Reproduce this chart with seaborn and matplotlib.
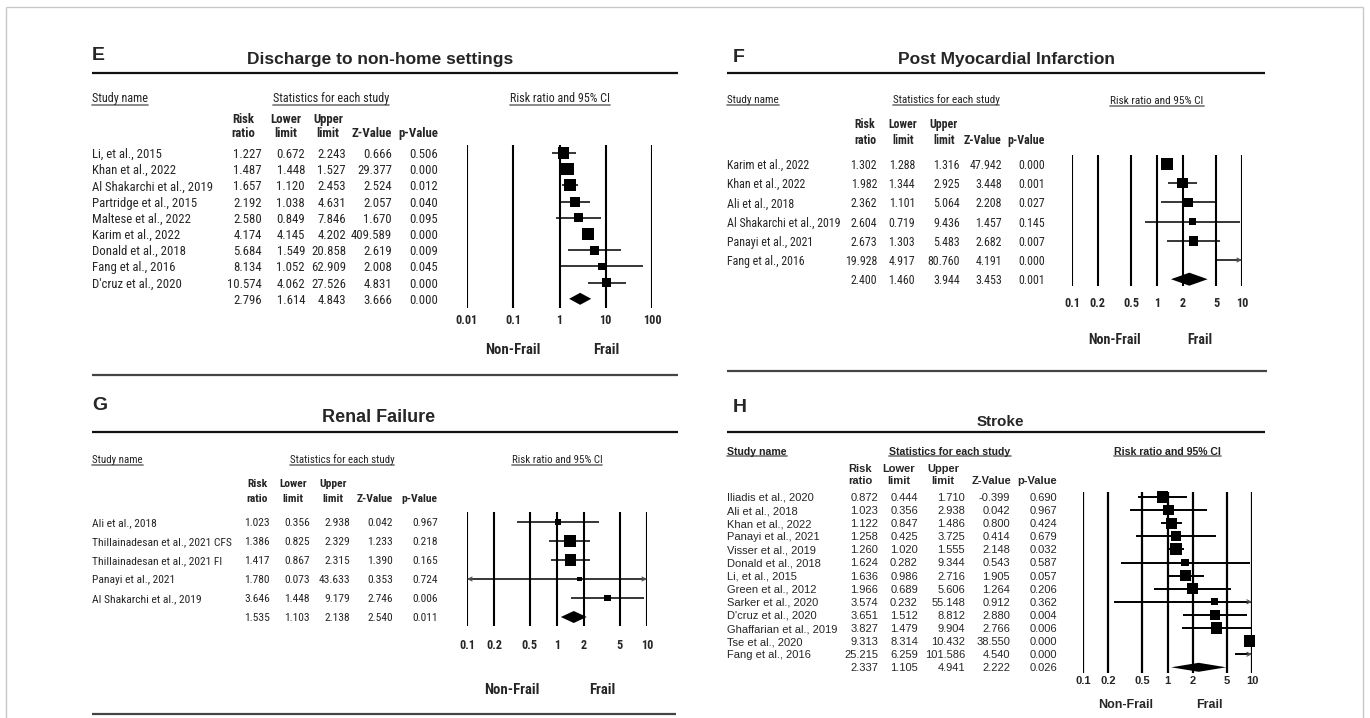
import numpy as np
import pandas as pd
import matplotlib
matplotlib.use("Agg")
import matplotlib.pyplot as plt
import seaborn as sns
from matplotlib import font_manager
from matplotlib.lines import Line2D
from matplotlib.transforms import blended_transform_factory as blend

# ---------------------------------------------------------------- data
# E: discharge to non-home settings
e_study = ["Li, et al., 2015", "Khan et al., 2022", "Al Shakarchi et al., 2019",
           "Partridge et al., 2015", "Maltese et al., 2022", "Karim et al., 2022",
           "Donald et al., 2018", "Fang et al., 2016", "D'cruz et al., 2020"]
e_rr = [1.227, 1.487, 1.657, 2.192, 2.580, 4.174, 5.684, 8.134, 10.574]
e_lower = [0.672, 1.448, 1.120, 1.038, 0.849, 4.145, 1.549, 1.052, 4.062]
e_upper = [2.243, 1.527, 2.453, 4.631, 7.846, 4.202, 20.858, 62.909, 27.526]
e_z = [0.666, 29.377, 2.524, 2.057, 1.670, 409.589, 2.619, 2.008, 4.831]
e_p = [0.506, 0.000, 0.012, 0.040, 0.095, 0.000, 0.009, 0.045, 0.000]
e_weight = [12.5, 15.6, 14.9, 10.4, 8.9, 15.6, 8.9, 4.7, 8.4]
e_overall = [2.796, 1.614, 4.843, 3.666, 0.000]

# F: post myocardial infarction
f_study = ["Karim et al., 2022", "Khan et al., 2022", "Ali et al., 2018",
           "Al Shakarchi et al., 2019", "Panayi et al., 2021", "Fang et al., 2016"]
f_rr = [1.302, 1.982, 2.362, 2.604, 2.673, 19.928]
f_lower = [1.288, 1.344, 1.101, 0.719, 1.303, 4.917]
f_upper = [1.316, 2.925, 5.064, 9.436, 5.483, 80.760]
f_z = [47.942, 3.448, 2.208, 1.457, 2.682, 4.191]
f_p = [0.000, 0.001, 0.027, 0.145, 0.007, 0.000]
f_weight = [28.1, 21.5, 17.6, 8.2, 17.6, 7.0]
f_overall = [2.400, 1.460, 3.944, 3.453, 0.001]

# G: renal failure
g_study = ["Ali et al., 2018", "Thillainadesan et al., 2021 CFS",
           "Thillainadesan et al., 2021 FI", "Panayi et al., 2021",
           "Al Shakarchi et al., 2019"]
g_rr = [1.023, 1.386, 1.417, 1.780, 3.646]
g_lower = [0.356, 0.825, 0.867, 0.073, 1.448]
g_upper = [2.938, 2.329, 2.315, 43.633, 9.179]
g_z = [0.042, 1.233, 1.390, 0.353, 2.746]
g_p = [0.967, 0.218, 0.165, 0.724, 0.006]
g_weight = [8.8, 37.6, 37.6, 5.0, 11.0]
g_overall = [1.535, 1.103, 2.138, 2.540, 0.011]

# H: stroke
h_study = ["Iliadis et al., 2020", "Ali et al., 2018", "Khan et al., 2022",
           "Panayi et al., 2021", "Visser et al., 2019", "Donald et al., 2018",
           "Li, et al., 2015", "Green et al., 2012", "Sarker et al., 2020",
           "D'cruz et al., 2020", "Ghaffarian et al., 2019", "Tse et al., 2020",
           "Fang et al., 2016"]
h_rr = [0.872, 1.023, 1.122, 1.258, 1.260, 1.624, 1.636, 1.966, 3.574, 3.651, 3.827, 9.313, 25.215]
h_lower = [0.444, 0.356, 0.847, 0.425, 1.020, 0.282, 0.986, 0.689, 0.232, 1.512, 1.479, 8.314, 6.259]
h_upper = [1.710, 2.938, 1.486, 3.725, 1.555, 9.344, 2.716, 5.606, 55.148, 8.812, 9.904, 10.432, 101.586]
h_z = [-0.399, 0.042, 0.800, 0.414, 2.148, 0.543, 1.905, 1.264, 0.912, 2.880, 2.766, 38.550, 4.540]
h_p = [0.690, 0.967, 0.424, 0.679, 0.032, 0.587, 0.057, 0.206, 0.362, 0.004, 0.006, 0.000, 0.000]
h_weight = [8.6, 8.1, 8.1, 7.1, 10.2, 4.2, 9.7, 8.1, 3.5, 7.5, 8.6, 9.7, 3.5]
h_overall = [2.337, 1.105, 4.941, 2.222, 0.026]

wide_ticks = [0.01, 0.1, 1, 10, 100]
wide_ticklabels = ["0.01", "0.1", "1", "10", "100"]
ticks = [0.1, 0.2, 0.5, 1, 2, 5, 10]
ticklabels = ["0.1", "0.2", "0.5", "1", "2", "5", "10"]

col_heads = [("Risk", "ratio"), ("Lower", "limit"), ("Upper", "limit"), ("", "Z-Value"), ("", "p-Value")]

# ---------------------------------------------------------------- style
sns.set_theme(style="white")

installed = {f.name for f in font_manager.fontManager.ttflist}
WIDE = "Liberation Sans" if "Liberation Sans" in installed else "DejaVu Sans"
NARROW = WIDE
for cand in ["Liberation Sans Narrow", "Arial Narrow", "Arimo Narrow",
             "Roboto Condensed", "Archivo Narrow", "PT Sans Narrow",
             "Fira Sans Condensed", "IBM Plex Sans Condensed", "Encode Sans Condensed"]:
    if cand in installed:
        NARROW = cand
        break
if NARROW in ("Liberation Sans Narrow", "Arial Narrow"):
    NSCALE = 1.0
elif NARROW != WIDE:
    NSCALE = 0.92
else:
    NSCALE = 0.82
plt.rcParams["font.family"] = [WIDE, "DejaVu Sans"]

W, H = 1370, 718
PX_PER_PT = 100 / 72
fig = plt.figure(figsize=(W / 100, H / 100), dpi=100)
fig.patch.set_facecolor("white")


def fx(px):
    return px / W


def fy(py):
    return 1 - py / H


def hline(x0, x1, y, lw, color):
    fig.add_artist(Line2D([fx(x0), fx(x1)], [fy(y), fy(y)], lw=lw, color=color,
                          transform=fig.transFigure, solid_capstyle="butt"))


def vline(x, y0, y1, lw, color):
    fig.add_artist(Line2D([fx(x), fx(x)], [fy(y0), fy(y1)], lw=lw, color=color,
                          transform=fig.transFigure, solid_capstyle="butt"))


# light frame around the whole figure
hline(6, 1363, 7, 1.0, "#c8c8c8")
vline(6, 7, 718, 1.0, "#c8c8c8")
vline(1363, 7, 718, 1.0, "#c8c8c8")

underlined = []

cfg_e = dict(letter=("E", 92, 54), title=("Discharge to non-home settings", 380, 58, 12.5),
             top_line=(92, 678, 73), bottom_line=(92, 678, 375),
             study_xy=(92, 97), stats_xy=(331, 97), ci_y=97, head_y=(118, 132),
             head_x=[243, 286, 328, 372, 418], col_right=[262, 305, 346, 392, 438],
             row_y0=153, row_dy=16.2, grid=(467, 652, 145, 308), tick_y=320, nf_y=348,
             half=1.0, family=NARROW, fs=10 * NSCALE, head_bold=False,
             tick_fs=9.5 * NSCALE, nf_fs=11.5 * NSCALE, box_px=12.3, diamond_px=12,
             ci_lw=1.1, grid_lw=1.5)
cfg_f = dict(letter=("F", 733, 56), title=("Post Myocardial Infarction", 1006, 58, 12.5),
             top_line=(727, 1265, 73), bottom_line=(727, 1267, 371),
             study_xy=(727, 99), stats_xy=(946, 99), ci_y=100, head_y=(123, 139),
             head_x=[865, 903, 944, 983, 1026], col_right=[877, 915, 960, 1002, 1045],
             row_y0=164, row_dy=19.2, grid=(1072, 1242, 155, 286), tick_y=303, nf_y=338,
             half=0.5, family=NARROW, fs=9.3 * NSCALE, head_bold=False,
             tick_fs=9.5 * NSCALE, nf_fs=11 * NSCALE, box_px=12, diamond_px=13,
             ci_lw=1.1, grid_lw=1.5)
cfg_g = dict(letter=("G", 92, 403), title=("Renal Failure", 379, 415, 13),
             top_line=(92, 678, 432), bottom_line=(92, 676, 714),
             study_xy=(92, 459), stats_xy=(342, 459), ci_y=459, head_y=(483, 498),
             head_x=[257, 293, 333, 375, 419], col_right=[270, 310, 350, 393, 438],
             row_y0=522, row_dy=19.0, grid=(467, 647, 512, 626), tick_y=645, nf_y=688,
             half=0.5, family=NARROW, fs=9.0 * NSCALE, head_bold=False,
             tick_fs=9.5 * NSCALE, nf_fs=11.5 * NSCALE, box_px=11.7, diamond_px=12,
             ci_lw=1.1, grid_lw=1.5)
cfg_h = dict(letter=("H", 733, 406), title=("Stroke", 1000, 421, 11),
             top_line=(727, 1265, 432), bottom_line=None,
             study_xy=(727, 451), stats_xy=(950, 451), ci_y=451, head_y=(468, 480),
             head_x=[860, 899, 943, 991, 1037], col_right=[878, 918, 965, 1010, 1057],
             row_y0=497, row_dy=13.1, grid=(1083, 1252, 492, 673), tick_y=682, nf_y=703,
             half=0.5, family=WIDE, fs=8, head_bold=True,
             tick_fs=8, nf_fs=9, box_px=12, diamond_px=9,
             ci_lw=1.4, grid_lw=1.6)


def clip_arrow(ax, edge, row, direction):
    start = edge * 10 ** (-0.06 * direction)
    ax.annotate("", xy=(edge, row), xytext=(start, row),
                arrowprops=dict(arrowstyle="->", lw=0.8, color="#555555",
                                shrinkA=0, shrinkB=0, mutation_scale=7),
                annotation_clip=False, zorder=3)


def panel(c, study, rr, lower, upper, zval, pval, weight, overall, tks, tklabels):
    fam, fs = c["family"], c["fs"]
    n = len(study)
    rows = np.arange(n)
    y0, dy = c["row_y0"], c["row_dy"]
    gx0, gx1, gy0, gy1 = c["grid"]
    lower = np.asarray(lower)
    upper = np.asarray(upper)

    # section header, title and rules
    letter, lx, ly = c["letter"]
    fig.text(fx(lx), fy(ly), letter, ha="left", va="center_baseline",
             fontsize=14, fontweight="bold", family=WIDE)
    title, tx, ty, tfs = c["title"]
    fig.text(fx(tx), fy(ty), title, ha="center", va="center_baseline",
             fontsize=tfs, fontweight="bold", family=WIDE)
    x0, x1, yl = c["top_line"]
    hline(x0, x1, yl, 1.6, "#111111")
    if c["bottom_line"] is not None:
        x0, x1, yl = c["bottom_line"]
        hline(x0, x1, yl, 1.6, "#444444")

    hw = "bold" if c["head_bold"] else "normal"
    underlined.append(fig.text(fx(c["study_xy"][0]), fy(c["study_xy"][1]), "Study name",
                               ha="left", va="center_baseline", fontsize=fs * 0.95,
                               fontweight=hw, family=fam, color="#222222"))
    underlined.append(fig.text(fx(c["stats_xy"][0]), fy(c["stats_xy"][1]),
                               "Statistics for each study", ha="center",
                               va="center_baseline", fontsize=fs * 0.95,
                               fontweight=hw, family=fam, color="#222222"))
    for (h1, h2), hx in zip(col_heads, c["head_x"]):
        for txt, hy in ((h1, c["head_y"][0]), (h2, c["head_y"][1])):
            if txt:
                fig.text(fx(hx), fy(hy), txt, ha="center", va="center_baseline",
                         fontsize=fs, fontweight="bold", family=fam)

    # forest plot axes
    ax = fig.add_axes([fx(gx0), fy(gy1), (gx1 - gx0) / W, (gy1 - gy0) / H])
    ax.set_xscale("log")
    for t in tks:
        ax.axvline(t, color="black", lw=c["grid_lw"], zorder=1)

    lo_c = np.clip(lower, tks[0], tks[-1])
    hi_c = np.clip(upper, tks[0], tks[-1])
    ax.hlines(rows, lo_c, hi_c, color="black", lw=c["ci_lw"], zorder=3)
    for i in rows:
        if lower[i] < tks[0]:
            clip_arrow(ax, tks[0], i, -1)
        if upper[i] > tks[-1]:
            clip_arrow(ax, tks[-1], i, 1)

    df = pd.DataFrame({"rr": rr, "row": rows, "weight": weight})
    shown = df[(df["rr"] >= tks[0]) & (df["rr"] <= tks[-1])]
    smax = (c["box_px"] / PX_PER_PT) ** 2
    sns.scatterplot(data=shown, x="rr", y="row", size="weight", sizes=(0, smax),
                    size_norm=(0, max(weight)), marker="s", color="black",
                    linewidth=0, legend=False, clip_on=False, zorder=4, ax=ax)

    m_rr, m_lo, m_hi = overall[:3]
    hh = c["diamond_px"] / 2 / dy
    ax.fill([m_lo, m_rr, m_hi, m_rr], [n, n - hh, n, n + hh], color="black",
            lw=0, zorder=4, clip_on=False)

    ax.set_xlim(tks[0], tks[-1])
    ax.set_ylim((gy1 - y0) / dy, (gy0 - y0) / dy)
    ax.set_xticks(tks, tklabels)
    ax.minorticks_off()
    ax.set_yticks([])
    ax.set_xlabel("")
    ax.set_ylabel("")
    for s in ax.spines.values():
        s.set_visible(False)
    ax.patch.set_alpha(0)
    pad = (c["tick_y"] - gy1) / PX_PER_PT - 0.5 * c["tick_fs"]
    ax.tick_params(axis="x", length=0, pad=pad, labelsize=c["tick_fs"])
    for lab in ax.get_xticklabels():
        lab.set_fontfamily(fam)
        lab.set_fontweight("bold")

    xfig = blend(ax.transData, fig.transFigure)
    underlined.append(ax.text(1, fy(c["ci_y"]), "Risk ratio and 95% CI", transform=xfig,
                              ha="center", va="center_baseline", fontsize=fs * 0.95,
                              fontweight=hw, family=fam, color="#222222"))
    ax.text(10 ** (-c["half"]), fy(c["nf_y"]), "Non-Frail", transform=xfig, ha="center",
            va="center_baseline", fontsize=c["nf_fs"], fontweight="bold", family=fam)
    ax.text(10 ** (c["half"]), fy(c["nf_y"]), "Frail", transform=xfig, ha="center",
            va="center_baseline", fontsize=c["nf_fs"], fontweight="bold", family=fam)

    # statistics table, rows aligned with the forest rows
    yrow = blend(fig.transFigure, ax.transData)
    for i in rows:
        ax.text(fx(c["study_xy"][0]), i, study[i], transform=yrow, ha="left",
                va="center_baseline", fontsize=fs, family=fam, clip_on=False)
    for j, col in enumerate([rr, lower, upper, zval, pval]):
        xr = fx(c["col_right"][j])
        for i in rows:
            ax.text(xr, i, f"{col[i]:.3f}", transform=yrow, ha="right",
                    va="center_baseline", fontsize=fs, family=fam, clip_on=False)
        ax.text(xr, n, f"{overall[j]:.3f}", transform=yrow, ha="right",
                va="center_baseline", fontsize=fs, family=fam, clip_on=False)


panel(cfg_e, e_study, e_rr, e_lower, e_upper, e_z, e_p, e_weight, e_overall,
      wide_ticks, wide_ticklabels)
panel(cfg_f, f_study, f_rr, f_lower, f_upper, f_z, f_p, f_weight, f_overall,
      ticks, ticklabels)
panel(cfg_g, g_study, g_rr, g_lower, g_upper, g_z, g_p, g_weight, g_overall,
      ticks, ticklabels)
panel(cfg_h, h_study, h_rr, h_lower, h_upper, h_z, h_p, h_weight, h_overall,
      ticks, ticklabels)

# underline the column-group headings
fig.canvas.draw()
renderer = fig.canvas.get_renderer()
for t in underlined:
    bb = t.get_window_extent(renderer)
    yb = bb.y0 + 0.5
    fig.add_artist(Line2D([bb.x0 / W, bb.x1 / W], [yb / H, yb / H], lw=1.3,
                          color="#808080", transform=fig.transFigure))

fig.savefig("out.png", dpi=100, facecolor="white")
